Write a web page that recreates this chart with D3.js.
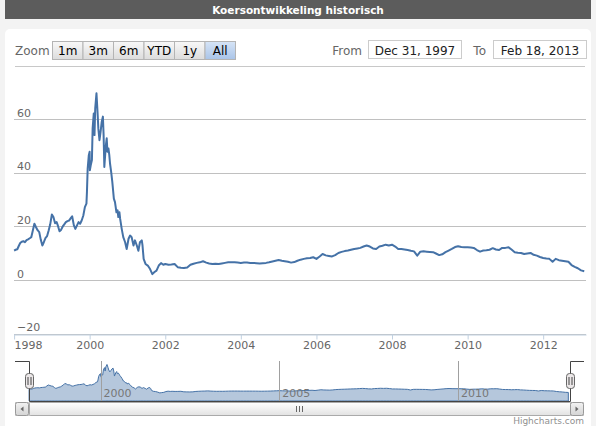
<!DOCTYPE html>
<html>
<head>
<meta charset="utf-8">
<title>Koersontwikkeling historisch</title>
<script src="https://d3js.org/d3.v7.min.js"></script>
<style>
    body {
        margin: 0;
        padding: 0;
        background-color: #f3f3f3;
    }
    svg text {
        font-family: "DejaVu Sans", sans-serif;
    }
</style>
</head>
<body>
<div id="chart"></div>
<script>
    // price history, 1998-2001 read at irregular dates (volatile part)
    var earlyDates = [
        "1998-01-01", "1998-01-16", "1998-02-01", "1998-02-16", "1998-03-01", "1998-03-16",
        "1998-04-01", "1998-04-16", "1998-05-01", "1998-05-16", "1998-06-01", "1998-06-16",
        "1998-07-01", "1998-07-16", "1998-08-01", "1998-08-16", "1998-09-01", "1998-09-16",
        "1998-10-01", "1998-10-16", "1998-11-01", "1998-11-16", "1998-12-01", "1998-12-16",
        "1999-01-01", "1999-01-16", "1999-02-01", "1999-02-16", "1999-03-01", "1999-03-16",
        "1999-04-01", "1999-04-16", "1999-05-01", "1999-05-16", "1999-06-01", "1999-06-16",
        "1999-07-01", "1999-07-16", "1999-08-01", "1999-08-16", "1999-09-01", "1999-09-16",
        "1999-10-01", "1999-10-16", "1999-11-01", "1999-11-16", "1999-12-01", "1999-12-06",
        "1999-12-13", "1999-12-24", "2000-01-01", "2000-01-03", "2000-01-12", "2000-01-23",
        "2000-01-30", "2000-02-10", "2000-02-17", "2000-02-24", "2000-03-07", "2000-03-17",
        "2000-03-25", "2000-04-05", "2000-04-16", "2000-04-27", "2000-05-08", "2000-05-15",
        "2000-05-22", "2000-06-06", "2000-06-14", "2000-06-21", "2000-07-01", "2000-07-09",
        "2000-07-16", "2000-07-27", "2000-08-07", "2000-08-22", "2000-09-02", "2000-09-16",
        "2000-09-27", "2000-10-04", "2000-10-15", "2000-10-22", "2000-11-06", "2000-11-21",
        "2000-12-09", "2000-12-24", "2001-01-11", "2001-01-26", "2001-02-10", "2001-02-28",
        "2001-03-14", "2001-04-01", "2001-04-16", "2001-05-01", "2001-05-19", "2001-05-26",
        "2001-06-06", "2001-06-24", "2001-07-16", "2001-08-07", "2001-08-29", "2001-09-16",
        "2001-10-08", "2001-10-30", "2001-11-21", "2001-12-13"
    ];
    var earlyPrices = [
        11.0, 11.3, 11.5, 12.8, 13.8, 14.3,
        14.5, 14.1, 14.9, 15.2, 15.6, 16.0,
        18.5, 21.0, 19.7, 18.6, 17.9, 15.0,
        12.9, 14.2, 15.7, 16.4, 18.5, 20.8,
        24.5, 23.5, 21.2, 21.6, 20.2, 18.2,
        18.8, 20.0, 20.8, 21.6, 22.0, 22.2,
        23.0, 23.8, 20.5, 19.1, 20.4, 21.6,
        21.0, 22.2, 24.1, 27.2, 28.5, 32.9,
        41.6, 46.6, 47.9, 41.0, 42.9, 44.8,
        56.6, 62.2, 54.1, 64.1, 69.7, 62.9,
        56.6, 52.2, 55.4, 59.1, 61.0, 54.1,
        42.2, 50.4, 52.9, 47.9, 49.1, 46.6,
        43.5, 40.4, 36.6, 30.4, 29.1, 25.3,
        26.0, 23.5, 25.3, 22.8, 19.1, 16.0,
        14.1, 11.6, 15.4, 16.6, 16.0, 12.9,
        14.8, 12.9, 10.9, 14.1, 14.8, 12.9,
        7.9, 6.0, 5.4, 4.1, 2.2, 2.9,
        3.5, 5.4, 6.3, 5.7
    ];

    // monthly closes from Jan 2002 to Feb 2013
    var monthlyStart = "2002-01-01";
    var monthlyPrices = [
        6.0, 5.7, 5.8, 6.0, 4.8, 4.6, 4.5, 4.7, 5.7, 6.1, 6.4, 6.6,
        7.0, 6.5, 6.2, 6.0, 6.1, 6.0, 6.2, 6.4, 6.6, 6.6, 6.6, 6.5,
        6.4, 6.5, 6.5, 6.4, 6.4, 6.3, 6.2, 6.3, 6.4, 6.6, 6.9, 7.2,
        7.5, 7.2, 7.0, 6.8, 6.5, 6.7, 7.2, 7.6, 7.9, 8.1, 8.2, 8.5,
        7.9, 8.8, 9.7, 9.2, 9.0, 8.8, 9.3, 10.1, 10.5, 10.8, 11.0, 11.3,
        11.6, 11.8, 12.0, 12.5, 12.9, 12.5, 11.8, 11.6, 12.5, 12.8, 13.2, 12.9,
        13.2, 12.5, 11.6, 11.6, 11.4, 11.2, 10.9, 10.7, 9.1, 10.6, 10.7, 10.6,
        10.5, 10.4, 9.9, 9.3, 9.6, 10.4, 11.0, 11.6, 12.3, 12.6, 12.3, 12.2,
        12.2, 12.1, 12.0, 11.2, 10.6, 11.0, 11.1, 11.3, 11.9, 11.4, 11.2, 12.0,
        12.0, 12.2, 11.4, 10.4, 10.2, 10.1, 9.7, 9.9, 10.1, 9.4, 9.1, 8.6,
        8.2, 8.0, 7.9, 6.8, 7.9, 7.4, 7.2, 7.0, 6.8, 5.6, 4.9, 4.4,
        3.6, 3.3
    ];

    var yTicks = [-20, 0, 20, 40, 60];
    var xTickYears = [1998, 2000, 2002, 2004, 2006, 2008, 2010, 2012];
    var navTickYears = [2000, 2005, 2010];
    var zoomButtons = ["1m", "3m", "6m", "YTD", "1y", "All"];
    var title = "Koersontwikkeling historisch";
    var rangeFrom = "Dec 31, 1997";
    var rangeTo = "Feb 18, 2013";

    var parse = d3.timeParse("%Y-%m-%d");
    var data = earlyDates.map(function (d, i) { return { date: parse(d), value: earlyPrices[i] }; });
    monthlyPrices.forEach(function (v, i) {
        data.push({ date: d3.timeMonth.offset(parse(monthlyStart), i), value: v });
    });

    var width = 596, height = 426;
    var svg = d3.select("#chart").append("svg")
        .attr("width", width)
        .attr("height", height);

    var defs = svg.append("defs");
    function grad(id, c1, c2) {
        var g = defs.append("linearGradient").attr("id", id)
            .attr("x1", 0).attr("y1", 0).attr("x2", 0).attr("y2", 1);
        g.append("stop").attr("offset", "0%").attr("stop-color", c1);
        g.append("stop").attr("offset", "100%").attr("stop-color", c2);
    }
    grad("btnGrad", "#f8f8f8", "#dcdcdc");
    grad("selGrad", "#d6e4f6", "#a9c4e8");
    grad("thumbGrad", "#ffffff", "#e2e2e2");
    grad("arrowGrad", "#f2f2f2", "#d4d4d4");
    grad("trackGrad", "#e8e8e8", "#f6f6f6");

    // frame
    svg.append("rect").attr("x", 5).attr("y", 29).attr("width", 586).attr("height", 410)
        .attr("rx", 5).attr("fill", "#fff");
    svg.append("rect").attr("x", 5).attr("y", 0).attr("width", 586).attr("height", 19)
        .attr("fill", "#5c5c5c");
    svg.append("text").attr("x", 298).attr("y", 13.5).attr("text-anchor", "middle")
        .attr("fill", "#fff").attr("font-size", 10.5).attr("font-weight", "bold")
        .text(title);

    // range selector
    svg.append("text").attr("x", 15).attr("y", 55).attr("font-size", 12).attr("fill", "#666")
        .text("Zoom");
    var bw = 30.5;
    var btn = svg.selectAll(".btn").data(zoomButtons).enter().append("g")
        .attr("transform", function (d, i) { return "translate(" + (52.5 + i * bw) + ",41.5)"; });
    btn.append("rect").attr("width", bw).attr("height", 18)
        .attr("fill", function (d) { return d == "All" ? "url(#selGrad)" : "url(#btnGrad)"; })
        .attr("stroke", "#b4b4b4");
    btn.append("text").attr("x", bw / 2).attr("y", 13.5).attr("text-anchor", "middle")
        .attr("font-size", 12).attr("fill", "#000").text(function (d) { return d; });

    svg.append("text").attr("x", 362).attr("y", 55).attr("text-anchor", "end")
        .attr("font-size", 12).attr("fill", "#666").text("From");
    svg.append("rect").attr("x", 368.5).attr("y", 40.5).attr("width", 93).attr("height", 18)
        .attr("fill", "#fff").attr("stroke", "#ccc");
    svg.append("text").attr("x", 415).attr("y", 54.5).attr("text-anchor", "middle")
        .attr("font-size", 12).attr("fill", "#222").text(rangeFrom);
    svg.append("text").attr("x", 486).attr("y", 55).attr("text-anchor", "end")
        .attr("font-size", 12).attr("fill", "#666").text("To");
    svg.append("rect").attr("x", 493.5).attr("y", 40.5).attr("width", 93).attr("height", 18)
        .attr("fill", "#fff").attr("stroke", "#ccc");
    svg.append("text").attr("x", 540).attr("y", 54.5).attr("text-anchor", "middle")
        .attr("font-size", 12).attr("fill", "#222").text(rangeTo);
    svg.append("line").attr("x1", 15).attr("x2", 585).attr("y1", 66.5).attr("y2", 66.5)
        .attr("stroke", "#c8c8c8");

    // main chart
    var domain = [new Date(1997, 11, 31), new Date(2013, 1, 18)];
    var x = d3.scaleTime().domain(domain).range([14, 586]);
    var y = d3.scaleLinear().domain([-20, 60]).range([333.6, 119.3]);

    svg.selectAll(".grid").data(yTicks).enter().append("line")
        .attr("x1", 14).attr("x2", 586)
        .attr("y1", function (d) { return Math.round(y(d)) + 0.5; })
        .attr("y2", function (d) { return Math.round(y(d)) + 0.5; })
        .attr("stroke", "#c0c0c0");
    svg.selectAll(".ylab").data(yTicks).enter().append("text")
        .attr("x", 17).attr("y", function (d) { return y(d) - 2.5; })
        .attr("font-size", 11).attr("fill", "#666")
        .text(function (d) { return d < 0 ? "\u2212" + Math.abs(d) : d; });

    var xAxis = svg.append("g")
        .attr("transform", "translate(0," + (Math.round(y(-20)) + 0.5) + ")")
        .call(d3.axisBottom(x)
            .tickValues(xTickYears.map(function (yr) { return new Date(yr, 0, 1); }))
            .tickFormat(d3.timeFormat("%Y"))
            .tickSize(5).tickSizeOuter(0));
    xAxis.select(".domain").attr("stroke", "#c0d0e0");
    xAxis.selectAll(".tick line").attr("stroke", "#c0d0e0");
    xAxis.selectAll(".tick text").attr("font-size", 11).attr("fill", "#666")
        .attr("font-family", "DejaVu Sans").attr("dy", "0.95em").attr("y", 4);
    xAxis.select(".tick text").attr("text-anchor", "start").attr("x", 0);

    var line = d3.line()
        .x(function (d) { return x(d.date); })
        .y(function (d) { return y(d.value); });
    svg.append("path").datum(data)
        .attr("d", line)
        .attr("fill", "none")
        .attr("stroke", "#4572a7")
        .attr("stroke-width", 2)
        .attr("stroke-linejoin", "round");

    // navigator
    var nx = d3.scaleTime().domain(domain).range([29, 570]);
    var ny = d3.scaleLinear().domain([-17, 72]).range([401, 363.5]);
    var navArea = d3.area()
        .x(function (d) { return nx(d.date); })
        .y0(401)
        .y1(function (d) { return ny(d.value); });
    svg.append("path").datum(data)
        .attr("d", navArea)
        .attr("fill", "#b5c7dc")
        .attr("stroke", "#4572a7")
        .attr("stroke-width", 1);

    svg.selectAll(".navgrid").data(navTickYears).enter().append("line")
        .attr("x1", function (d) { return Math.round(nx(new Date(d, 0, 1))) + 0.5; })
        .attr("x2", function (d) { return Math.round(nx(new Date(d, 0, 1))) + 0.5; })
        .attr("y1", 361).attr("y2", 401)
        .attr("stroke", "#a0a0a0");
    svg.selectAll(".navlab").data(navTickYears).enter().append("text")
        .attr("x", function (d) { return nx(new Date(d, 0, 1)) + 3; })
        .attr("y", 397)
        .attr("font-size", 11).attr("fill", "#777")
        .text(function (d) { return d; });

    svg.append("path")
        .attr("d", "M15,361.5H29.5V401.5H570.5V361.5H584")
        .attr("fill", "none").attr("stroke", "#444");

    [29.5, 570.5].forEach(function (hx) {
        svg.append("rect").attr("x", hx - 4).attr("y", 373.5).attr("width", 8).attr("height", 15)
            .attr("rx", 3).attr("fill", "#ebe7e8").attr("stroke", "#666");
        svg.append("path")
            .attr("d", "M" + (hx - 1.5) + ",377V385M" + (hx + 1.5) + ",377V385")
            .attr("stroke", "#444");
    });

    // scrollbar
    svg.append("rect").attr("x", 15.5).attr("y", 402.5).attr("width", 568).attr("height", 13)
        .attr("fill", "url(#trackGrad)").attr("stroke", "#ccc");
    svg.append("rect").attr("x", 29.5).attr("y", 402.5).attr("width", 541).attr("height", 13)
        .attr("rx", 1).attr("fill", "url(#thumbGrad)").attr("stroke", "#aaa");
    svg.append("path").attr("d", "M296.5,406V412M299.5,406V412M302.5,406V412")
        .attr("stroke", "#666");
    [[15.5, -1], [570.5, 1]].forEach(function (b) {
        svg.append("rect").attr("x", b[0]).attr("y", 402.5).attr("width", 13).attr("height", 13)
            .attr("rx", 2).attr("fill", "url(#arrowGrad)").attr("stroke", "#999");
        var cx = b[0] + 6.5;
        svg.append("path")
            .attr("d", "M" + (cx - b[1] * 1.5) + ",406.5L" + (cx + b[1] * 1.5) + ",409L" + (cx - b[1] * 1.5) + ",411.5Z")
            .attr("fill", "#666");
    });

    svg.append("text").attr("x", 584).attr("y", 424).attr("text-anchor", "end")
        .attr("font-size", 9).attr("fill", "#909090").text("Highcharts.com");
</script>
</body>
</html>
